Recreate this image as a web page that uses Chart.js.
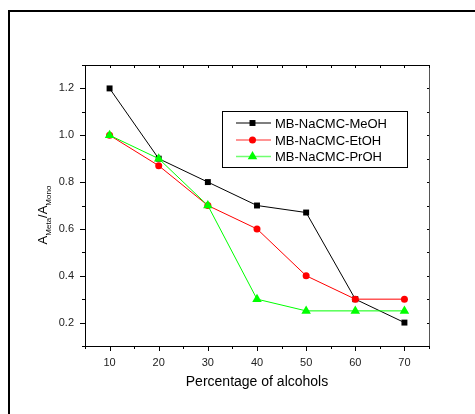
<!DOCTYPE html>
<html>
<head>
<meta charset="utf-8">
<script src="https://cdn.jsdelivr.net/npm/chart.js@4/dist/chart.umd.min.js"></script>
<style>
  html, body { margin: 0; padding: 0; background: #fff; }
  #wrap { width: 475px; height: 414px; }
</style>
</head>
<body>
<div id="wrap"><canvas id="chart" width="475" height="414"></canvas></div>
<script>
const percentages = [10, 20, 30, 40, 50, 60, 70];
const meohValues = [1.2, 0.9, 0.8, 0.7, 0.67, 0.3, 0.2];
const etohValues = [1.0, 0.87, 0.7, 0.6, 0.4, 0.3, 0.3];
const prohValues = [1.0, 0.9, 0.7, 0.3, 0.25, 0.25, 0.25];
const xTickLabels = [10, 20, 30, 40, 50, 60, 70];
const yTickLabels = [0.2, 0.4, 0.6, 0.8, 1.0, 1.2];
const seriesNames = ["MB-NaCMC-MeOH", "MB-NaCMC-EtOH", "MB-NaCMC-PrOH"];

const FONT = "'Liberation Sans', Arial, sans-serif";

function toPoints(values) {
  return percentages.map((x, i) => ({ x: x, y: values[i] }));
}

function drawMarker(ctx, style, x, y, r, color) {
  ctx.fillStyle = color;
  ctx.beginPath();
  if (style === "rect") {
    const s = r * Math.SQRT1_2;
    ctx.rect(x - s, y - s, 2 * s, 2 * s);
  } else if (style === "triangle") {
    ctx.moveTo(x, y - r);
    ctx.lineTo(x + r * 0.866, y + r * 0.5);
    ctx.lineTo(x - r * 0.866, y + r * 0.5);
    ctx.closePath();
  } else {
    ctx.arc(x, y, r, 0, Math.PI * 2);
  }
  ctx.fill();
}

const framePlugin = {
  id: "frame",
  beforeDraw(chart) {
    const ctx = chart.ctx;
    ctx.save();
    ctx.fillStyle = "#fff";
    ctx.fillRect(0, 0, chart.width, chart.height);
    // outer figure frame (left + top)
    ctx.fillStyle = "#000";
    ctx.fillRect(8, 10, 2, chart.height - 10);
    ctx.fillRect(8, 10, chart.width - 8, 2);
    ctx.restore();
  },
  afterDraw(chart) {
    const ctx = chart.ctx;
    const a = chart.chartArea;
    const L = Math.round(a.left), R = Math.round(a.right);
    const T = Math.round(a.top), B = Math.round(a.bottom);
    const xs = chart.scales.x;
    const ys = chart.scales.y;
    ctx.save();

    // plot box
    ctx.fillStyle = "#000";
    ctx.fillRect(L, T, 1, B - T + 1);
    ctx.fillRect(L, T, R - L, 1);
    ctx.fillRect(L, B, R - L + 1, 1);
    ctx.fillStyle = "#555";
    ctx.fillRect(R, T, 1, B - T + 1);

    // x ticks: outward on bottom, inward on top
    ctx.fillStyle = "#000";
    xs.ticks.forEach((t) => {
      const px = Math.round(xs.getPixelForValue(t.value));
      const major = xTickLabels.includes(t.value);
      ctx.fillRect(px, B, 1, major ? 5 : 3);
      ctx.fillRect(px, T, 1, 3);
    });
    // y ticks: outward on left, inward on right
    ys.ticks.forEach((t) => {
      const py = Math.round(ys.getPixelForValue(t.value));
      const major = yTickLabels.some((v) => Math.abs(v - t.value) < 1e-6);
      const len = major ? 5 : 3;
      ctx.fillRect(L - len, py, len, 1);
      ctx.fillRect(R - 2, py, 2, 1);
    });

    // x axis title
    ctx.fillStyle = "#000";
    ctx.font = "14px " + FONT;
    ctx.textAlign = "center";
    ctx.textBaseline = "middle";
    ctx.fillText("Percentage of alcohols", (L + R) / 2, 382);

    // y axis title with subscripts
    const parts = [
      { t: "A", sub: false },
      { t: "Meta", sub: true },
      { t: "/A", sub: false },
      { t: "Mono", sub: true },
    ];
    ctx.save();
    ctx.translate(47, 215);
    ctx.rotate(-Math.PI / 2);
    let total = 0;
    parts.forEach((p) => {
      ctx.font = (p.sub ? "8px " : "13px ") + FONT;
      p.w = ctx.measureText(p.t).width;
      total += p.w;
    });
    let cx = -total / 2;
    ctx.textAlign = "left";
    ctx.textBaseline = "alphabetic";
    parts.forEach((p) => {
      ctx.font = (p.sub ? "8px " : "13px ") + FONT;
      ctx.fillText(p.t, cx, p.sub ? 4 : 0);
      cx += p.w;
    });
    ctx.restore();

    // legend
    const lx = 222, ly = 111, lw = 185, lh = 56;
    ctx.fillStyle = "#fff";
    ctx.fillRect(lx, ly, lw, lh);
    ctx.fillStyle = "#000";
    ctx.fillRect(lx, ly, lw, 1);
    ctx.fillRect(lx, ly + lh, lw + 1, 1);
    ctx.fillRect(lx, ly, 1, lh);
    ctx.fillRect(lx + lw, ly, 1, lh);
    const rows = [123, 140, 156.5];
    const byLabel = {};
    chart.data.datasets.forEach((ds) => (byLabel[ds.label] = ds));
    seriesNames.forEach((name, i) => {
      const ds = byLabel[name];
      const y = rows[i];
      ctx.strokeStyle = ds.legendLine;
      ctx.lineWidth = 1.5;
      ctx.beginPath();
      ctx.moveTo(236, y);
      ctx.lineTo(271, y);
      ctx.stroke();
      drawMarker(ctx, ds.pointStyle, 252.5, y, ds.pointRadius, ds.pointBackgroundColor);
      ctx.fillStyle = "#000";
      ctx.font = "13px " + FONT;
      ctx.textAlign = "left";
      ctx.textBaseline = "middle";
      ctx.fillText(name, 275, y + 1);
    });
    ctx.restore();
  },
};

const tickFont = { family: FONT, size: 11 };

new Chart(document.getElementById("chart"), {
  type: "line",
  data: {
    datasets: [
      {
        label: seriesNames[0],
        data: toPoints(meohValues),
        borderColor: "#000",
        borderWidth: 1,
        pointStyle: "rect",
        pointRadius: 4.2,
        pointBackgroundColor: "#000",
        pointBorderWidth: 0,
        legendLine: "#555",
        order: 2,
      },
      {
        label: seriesNames[1],
        data: toPoints(etohValues),
        borderColor: "#ff0000",
        borderWidth: 1,
        pointStyle: "circle",
        pointRadius: 3.5,
        pointBackgroundColor: "#ff0000",
        pointBorderWidth: 0,
        legendLine: "#ff7070",
        order: 1,
      },
      {
        label: seriesNames[2],
        data: toPoints(prohValues),
        borderColor: "#00ff00",
        borderWidth: 1,
        pointStyle: "triangle",
        pointRadius: 5.5,
        pointBackgroundColor: "#00ff00",
        pointBorderWidth: 0,
        legendLine: "#70ff70",
        order: 0,
      },
    ],
  },
  plugins: [framePlugin],
  options: {
    responsive: false,
    animation: false,
    layout: { padding: { left: 0, top: 65, right: 46, bottom: 0 } },
    plugins: {
      legend: { display: false },
      tooltip: { enabled: false },
    },
    elements: { line: { tension: 0 } },
    scales: {
      x: {
        type: "linear",
        min: 5,
        max: 75,
        grid: { display: false, drawTicks: false, tickLength: 0 },
        border: { display: false },
        afterFit: (scale) => {
          scale.height = 414 - 346;
        },
        ticks: {
          stepSize: 5,
          autoSkip: false,
          maxRotation: 0,
          padding: 10,
          color: "#222",
          font: tickFont,
          callback: (v) => (xTickLabels.includes(v) ? String(v) : ""),
        },
      },
      y: {
        type: "linear",
        min: 0.1,
        max: 1.3,
        grid: { display: false, drawTicks: false, tickLength: 0 },
        border: { display: false },
        afterFit: (scale) => {
          scale.width = 85;
        },
        ticks: {
          stepSize: 0.1,
          autoSkip: false,
          padding: 11,
          color: "#222",
          font: tickFont,
          callback: (v) => {
            const hit = yTickLabels.find((l) => Math.abs(l - v) < 1e-6);
            return hit !== undefined ? hit.toFixed(1) : "";
          },
        },
      },
    },
  },
});
</script>
</body>
</html>
